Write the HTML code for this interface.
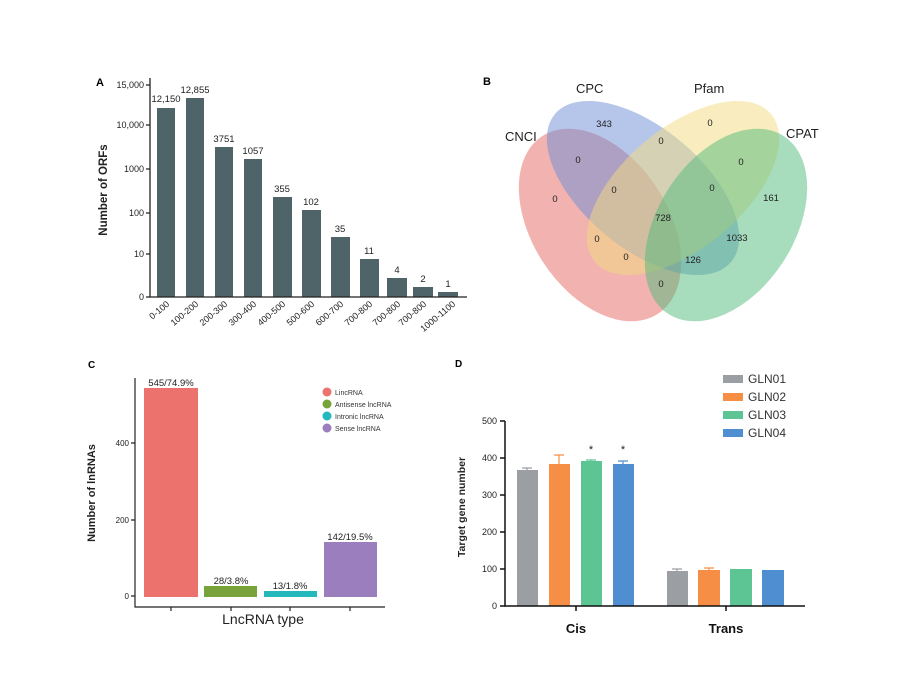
<!DOCTYPE html>
<html><head><meta charset="utf-8"><style>body{margin:0;background:#fff}svg{display:block;font-family:"Liberation Sans",Arial,sans-serif}</style></head><body>
<svg width="900" height="700" viewBox="0 0 900 700" xmlns="http://www.w3.org/2000/svg">
<rect width="900" height="700" fill="#fff"/>
<!-- Panel A -->
<text x="96" y="86" font-size="11" font-weight="bold">A</text>
<g fill="#4f6468">
<rect x="157" y="108" width="18" height="189"/>
<rect x="186" y="98" width="18" height="199"/>
<rect x="215" y="147" width="18" height="150"/>
<rect x="244" y="159" width="18" height="138"/>
<rect x="273" y="197" width="19" height="100"/>
<rect x="302" y="210" width="19" height="87"/>
<rect x="331" y="237" width="19" height="60"/>
<rect x="360" y="259" width="19" height="38"/>
<rect x="387" y="278" width="20" height="19"/>
<rect x="413" y="287" width="20" height="10"/>
<rect x="438" y="292" width="20" height="5"/>
</g>
<g stroke="#222" stroke-width="1.3" fill="none">
<path d="M150 78V297H467"/>
<path d="M146 85H150M146 125H150M146 169H150M146 213H150M146 254H150M146 297H150"/>
</g>
<g font-size="9" fill="#222" text-anchor="end">
<text x="144" y="88">15,000</text><text x="144" y="128">10,000</text><text x="144" y="172">1000</text>
<text x="144" y="216">100</text><text x="144" y="257">10</text><text x="144" y="300">0</text>
</g>
<g font-size="9.5" fill="#222" text-anchor="middle">
<text x="166" y="102">12,150</text><text x="195" y="93">12,855</text><text x="224" y="142">3751</text>
<text x="253" y="154">1057</text><text x="282" y="192">355</text><text x="311" y="205">102</text>
<text x="340" y="232">35</text><text x="369" y="254">11</text><text x="397" y="273">4</text>
<text x="423" y="282">2</text><text x="448" y="287">1</text>
</g>
<g font-size="9" fill="#222" text-anchor="end">
<text transform="translate(170,305) rotate(-40)">0-100</text>
<text transform="translate(199,305) rotate(-40)">100-200</text>
<text transform="translate(228,305) rotate(-40)">200-300</text>
<text transform="translate(257,305) rotate(-40)">300-400</text>
<text transform="translate(286,305) rotate(-40)">400-500</text>
<text transform="translate(315,305) rotate(-40)">500-600</text>
<text transform="translate(344,305) rotate(-40)">600-700</text>
<text transform="translate(373,305) rotate(-40)">700-800</text>
<text transform="translate(401,305) rotate(-40)">700-800</text>
<text transform="translate(427,305) rotate(-40)">700-800</text>
<text transform="translate(456,305) rotate(-40)">1000-1100</text>
</g>
<text transform="translate(107,190) rotate(-90)" font-size="11.5" font-weight="bold" text-anchor="middle" fill="#222">Number of ORFs</text>
<!-- Panel B -->
<text x="483" y="85" font-size="11" font-weight="bold">B</text>
<g fill-opacity="0.5">
<ellipse cx="600" cy="225" rx="106" ry="68" transform="rotate(57 600 225)" fill="#e46562"/>
<ellipse cx="643" cy="188" rx="115" ry="60" transform="rotate(40 643 188)" fill="#6b8ed6"/>
<ellipse cx="683" cy="188" rx="115" ry="60" transform="rotate(-40 683 188)" fill="#f3dc80"/>
<ellipse cx="726" cy="225" rx="106" ry="68" transform="rotate(-57 726 225)" fill="#4fb97a"/>
</g>
<g font-size="13" fill="#222">
<text x="505" y="141">CNCI</text><text x="576" y="93">CPC</text><text x="694" y="93">Pfam</text><text x="786" y="138">CPAT</text>
</g>
<g font-size="9.5" fill="#222" text-anchor="middle">
<text x="604" y="127">343</text><text x="710" y="126">0</text><text x="661" y="144">0</text><text x="578" y="163">0</text>
<text x="741" y="165">0</text><text x="614" y="193">0</text><text x="712" y="191">0</text><text x="555" y="202">0</text>
<text x="771" y="201">161</text><text x="663" y="221">728</text><text x="597" y="242">0</text><text x="737" y="241">1033</text>
<text x="626" y="260">0</text><text x="693" y="263">126</text><text x="661" y="287">0</text>
</g>
<!-- Panel C -->
<text x="88" y="368" font-size="10" font-weight="bold">C</text>
<rect x="144" y="388" width="54" height="209" fill="#ec736d"/>
<rect x="204" y="586" width="53" height="11" fill="#77a33a"/>
<rect x="264" y="591" width="53" height="6" fill="#23b8bb"/>
<rect x="324" y="542" width="53" height="55" fill="#9a7ebd"/>
<g stroke="#222" stroke-width="1.2" fill="none">
<path d="M135 378V607H385"/>
<path d="M131 443H135M131 520H135M131 596H135M171 607V611M231 607V611M290 607V611M350 607V611"/>
</g>
<g font-size="8" fill="#222" text-anchor="end"><text x="129" y="446">400</text><text x="129" y="523">200</text><text x="129" y="599">0</text></g>
<g font-size="9.5" fill="#222" text-anchor="middle">
<text x="171" y="386">545/74.9%</text><text x="231" y="584">28/3.8%</text><text x="290" y="589">13/1.8%</text><text x="350" y="540">142/19.5%</text>
</g>
<text x="263" y="624" font-size="14" text-anchor="middle" fill="#222">LncRNA type</text>
<text transform="translate(95,493) rotate(-90)" font-size="11" font-weight="bold" text-anchor="middle" fill="#222">Number of lnRNAs</text>
<circle cx="327" cy="392" r="4.5" fill="#ec736d"/><circle cx="327" cy="404" r="4.5" fill="#77a33a"/>
<circle cx="327" cy="416" r="4.5" fill="#23b8bb"/><circle cx="327" cy="428" r="4.5" fill="#9a7ebd"/>
<g font-size="7" fill="#333"><text x="335" y="395">LincRNA</text><text x="335" y="407">Antisense lncRNA</text><text x="335" y="419">Intronic lncRNA</text><text x="335" y="431">Sense lncRNA</text></g>
<!-- Panel D -->
<text x="455" y="367" font-size="10" font-weight="bold">D</text>
<g>
<rect x="517" y="470" width="21" height="136" fill="#9b9ea2"/>
<rect x="549" y="464" width="21" height="142" fill="#f68f45"/>
<rect x="581" y="461" width="21" height="145" fill="#5cc593"/>
<rect x="613" y="464" width="21" height="142" fill="#4f8fd1"/>
<rect x="667" y="571" width="21" height="35" fill="#9b9ea2"/>
<rect x="698" y="570" width="22" height="36" fill="#f68f45"/>
<rect x="730" y="569" width="22" height="37" fill="#5cc593"/>
<rect x="762" y="570" width="22" height="36" fill="#4f8fd1"/>
</g>
<g stroke-width="1.2" fill="none">
<path d="M527 470V468M522 468H532" stroke="#9b9ea2"/>
<path d="M559 464V455M554 455H564" stroke="#f68f45"/>
<path d="M591 461V460M586 460H596" stroke="#5cc593"/>
<path d="M623 464V461M618 461H628" stroke="#4f8fd1"/>
<path d="M677 571V569M672 569H682" stroke="#9b9ea2"/>
<path d="M709 570V568M704 568H714" stroke="#f68f45"/>
</g>
<g stroke="#111" stroke-width="1.5" fill="none">
<path d="M505 421V606H805"/>
<path d="M500 421H505M500 458H505M500 495H505M500 532H505M500 569H505M500 606H505M576 606V611M726 606V611"/>
</g>
<g font-size="9" fill="#222" text-anchor="end">
<text x="497" y="424">500</text><text x="497" y="461">400</text><text x="497" y="498">300</text>
<text x="497" y="535">200</text><text x="497" y="572">100</text><text x="497" y="609">0</text>
</g>
<g font-size="11" text-anchor="middle" fill="#222"><text x="591" y="453">*</text><text x="623" y="453">*</text></g>
<g font-size="13" font-weight="bold" text-anchor="middle" fill="#111"><text x="576" y="633">Cis</text><text x="726" y="633">Trans</text></g>
<text transform="translate(465,507) rotate(-90)" font-size="10.5" font-weight="bold" text-anchor="middle" fill="#222">Target gene number</text>
<rect x="723" y="375" width="20" height="8" fill="#9b9ea2"/><rect x="723" y="393" width="20" height="8" fill="#f68f45"/>
<rect x="723" y="411" width="20" height="8" fill="#5cc593"/><rect x="723" y="429" width="20" height="8" fill="#4f8fd1"/>
<g font-size="12" fill="#333"><text x="748" y="383">GLN01</text><text x="748" y="401">GLN02</text><text x="748" y="419">GLN03</text><text x="748" y="437">GLN04</text></g>
</svg>
</body></html>
